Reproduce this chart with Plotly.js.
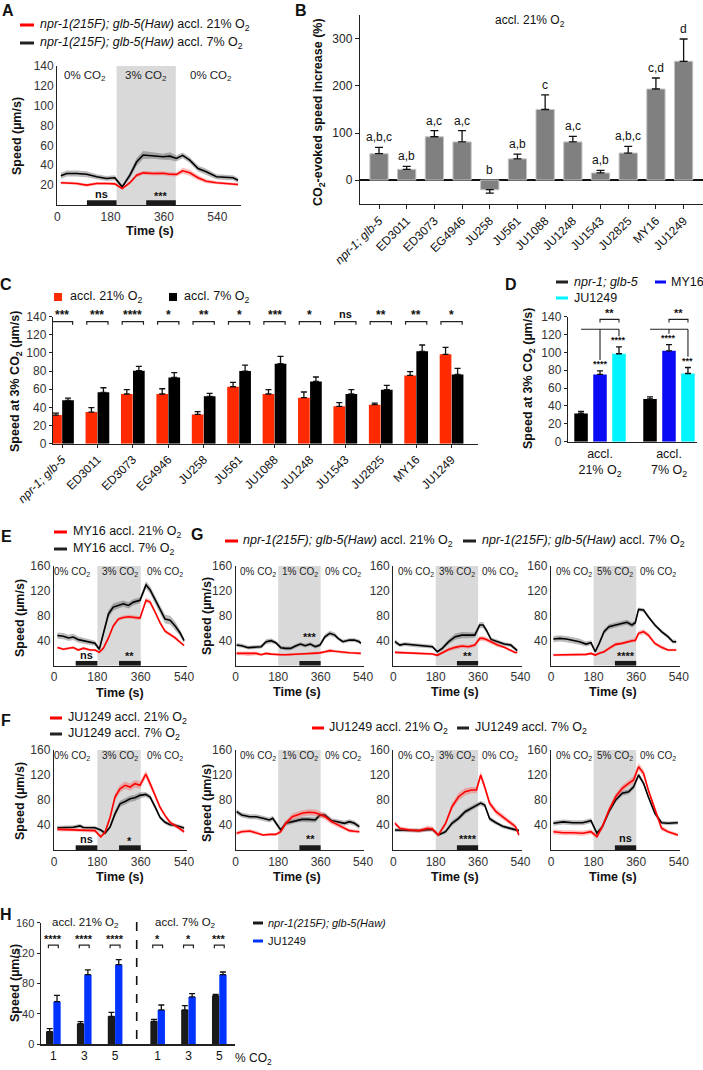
<!DOCTYPE html>
<html><head><meta charset="utf-8">
<script src="https://cdn.plot.ly/plotly-3.0.1.min.js"></script>
<style>html,body{margin:0;padding:0;background:#fff}#chart{width:703px;height:1070px}</style>
</head><body><div id="chart"></div>
<script>
// ================= DATA =================
const strains = ['npr-1; glb-5','ED3011','ED3073','EG4946','JU258','JU561','JU1088','JU1248','JU1543','JU2825','MY16','JU1249'];
// Panel B: CO2-evoked speed increase (%), accl. 21% O2
const speedIncreaseB = [56, 22.7, 92, 81, -20.6, 45, 150, 81, 15, 57.4, 193.6, 252.5];
const semB = [13.5, 6.3, 13, 24, 7.4, 10, 31, 12, 5.6, 14.2, 23.4, 47.5];
const lettersB = ['a,b,c','a,b','a,c','a,c','b','a,b','c','a,c','a,b','a,b,c','c,d','d'];
// Panel C: speed at 3% CO2
const speedC21 = [31.6, 34.9, 54.8, 54.8, 32.3, 62.8, 54.8, 50.7, 41.2, 43, 75.3, 98.5];
const semC21 = [2.2, 4.8, 4.7, 5.8, 3, 4.8, 4.7, 6.3, 4, 1.8, 4.1, 7.7];
const speedC7 = [47.8, 56.6, 80.5, 73.1, 52.2, 80.1, 88.2, 68.7, 54.8, 59.5, 101.8, 76.4];
const semC7 = [2.5, 5.1, 4.8, 5.2, 3.3, 6.6, 8.1, 4.8, 4.7, 4.8, 7, 6.7];
const sigC = ['***','***','****','*','**','*','***','*','ns','**','**','*'];
// Panel D
const conditionsD = ['accl.<br>21% O<sub>2</sub>','accl.<br>7% O<sub>2</sub>'];
const speedD_npr = [31.6, 47.8], semD_npr = [2.2, 2.5];
const speedD_MY16 = [75.3, 101.8], semD_MY16 = [4.1, 7];
const speedD_JU1249 = [98.5, 76.4], semD_JU1249 = [7.7, 6.7];
const sigD_MY16 = ['****','****'], sigD_JU1249 = ['****','***'], sigD_pair = ['**','**'];
// Panel A: npr-1(215F); glb-5(Haw), 3% CO2
const tA = [12, 32, 65, 99, 133, 166, 194, 219, 245, 268, 290, 324, 357, 380, 402, 423, 447, 475, 503, 537, 571, 593, 610];
const a21 = [22.4, 22.4, 21.7, 20, 21.7, 21.7, 21.3, 16.6, 22.4, 30, 32.4, 31.8, 32, 31, 30.8, 34.5, 32.4, 27.4, 24, 22.4, 21.7, 21.2, 20.7];
const a21sem = [1.5,1.5,1.5,1.5,1.5,1.5,1.5,1.2,1.5,2,2,2,2,2,2,3,3,2.5,2,1.5,1.5,1.5,1.5];
const a7 = [29.4, 31.8, 31.8, 31, 28.4, 26.7, 27.4, 18.3, 30, 43.5, 50.3, 49.6, 48.6, 49.2, 46.9, 50, 45.2, 36.8, 33.4, 28.4, 27.4, 27.4, 25];
const a7sem = [3,3,3,3,2.5,2.5,2.5,1.5,3,4,4,3,3,4,3,3,3,3,3,2.5,2.5,2.5,2.5];
// Panel E: MY16
const tE = [14, 39, 60, 80, 101, 122, 150, 170, 188, 205, 226, 246, 267, 288, 309, 330, 357, 382, 399, 420, 440, 461, 482, 503, 523, 540];
const e7 = [48.3, 47.2, 44.4, 46, 41.7, 40, 37.8, 36, 26.2, 50, 83, 94, 96.7, 99.4, 96.7, 102, 105, 129.7, 121.5, 105, 91, 74.7, 73, 63.7, 52.7, 40];
const e7sem = [5,5,5,5,5,5,5,4,3,5,6,6,5,5,5,5,5,6,6,6,6,7,7,7,5,4];
const e21 = [29, 26.2, 28, 29, 25, 28, 25, 25, 21.3, 28, 44.4, 63.7, 74.7, 77.4, 78.5, 77.4, 76.3, 105, 102, 85.7, 69, 55.4, 50, 44.4, 37.8, 32.3];
const e21sem = [2,2,2,2,2,2,2,2,2,2,3,3,3,3,3,3,3,4,4,3,3,3,3,3,2,2];
// Panel F: JU1249
const tF = [14, 39, 80, 108, 122, 170, 194, 212, 233, 253, 274, 295, 316, 336, 357, 381, 399, 420, 440, 461, 482, 503, 523, 540];
const f21 = [33, 32.5, 32.5, 32, 31.5, 31, 21, 28.8, 52.4, 84.7, 98, 103.5, 100.8, 106.2, 103.5, 121.3, 106.2, 87.4, 68.5, 55, 44.3, 38.9, 33.5, 29.2];
const f21sem = [3,3,3,3,3,3,2,3,4,6,6,6,6,6,6,6,6,5,4,3,3,3,3,3];
const f7 = [35.5, 35.5, 36.5, 38.5, 36, 35.5, 32, 27, 37, 57.8, 73.9, 77.7, 82, 83.6, 87.4, 89, 84.7, 68.5, 52.4, 44.3, 40.5, 39.5, 37.3, 35.2];
const f7sem = [3,3,3,3,3,3,2,3,3,5,5,5,5,5,5,4,4,4,3,3,3,3,3,3];
// Panel G top: npr-1(215F); glb-5(Haw) at 1, 3, 5 % CO2
const tG1 = [4, 25, 53, 87, 108, 129, 150, 170, 191, 212, 233, 253, 274, 295, 316, 337, 357, 378, 399, 420, 434, 454, 482, 503, 524, 530];
const g1_7 = [33, 32, 28.8, 29.3, 30.4, 38.4, 40, 36.8, 28.8, 27.7, 27.7, 31.4, 34.6, 32, 34.6, 30.4, 33, 46.4, 51.8, 49, 43.7, 38.4, 41, 41, 38.4, 35.7];
const g1_7sem = [3,3,3,3,3,4,4,3,3,3,3,3,3,3,3,3,3,4,4,4,3,3,3,3,3,3];
const g1_21 = [19.6, 19.6, 18.6, 19.6, 17.5, 19.6, 18.5, 17.5, 17.5, 17.5, 17.5, 18.6, 18.6, 19, 19.6, 19.6, 20.5, 22.3, 24, 23, 22.3, 21, 20.7, 20.2, 19.6, 19.6];
const g1_21sem = [3,3,3,3,2,2,2,2,2,2,2,2,2,2,2,2,2,2,3,2,2,2,2,2,2,2];
const tG2 = [7, 28, 48, 83, 125, 166, 187, 208, 235, 263, 291, 319, 346, 367, 381, 395, 415, 443, 471, 499, 519, 526];
const g2_7 = [38.4, 33, 34.6, 33, 31.4, 30.4, 22.3, 27.7, 38.4, 46.4, 49, 49, 49, 65.2, 65.2, 57, 42, 38.4, 34.6, 33, 26, 24];
const g2_7sem = [4,3,3,3,3,3,2,3,4,5,5,5,4,5,5,4,3,3,3,3,3,3];
const g2_21 = [21.3, 21, 20.7, 19.6, 19.6, 18.6, 16.5, 20.7, 26, 29.3, 31.4, 30.4, 33, 43.7, 43.7, 42, 38.4, 33, 29.3, 24, 20.7, 21.3];
const g2_21sem = [2,2,2,2,2,2,2,2,3,3,3,3,3,4,4,4,3,3,2,2,2,2];
const tG3 = [10, 37, 65, 93, 120, 148, 169, 187, 204, 224, 245, 273, 301, 321, 342, 356, 370, 391, 411, 439, 467, 494, 515, 529];
const g3_7 = [42.7, 43.7, 42.7, 41, 38.4, 34.6, 36.8, 22.3, 35.7, 54.5, 62.5, 65.2, 67.9, 69.5, 65.2, 69, 90.3, 89.3, 78.6, 65.2, 54.5, 46.4, 38.4, 38.4];
const g3_7sem = [5,5,5,5,5,4,4,2,3,4,4,4,4,4,4,4,3,3,3,3,3,3,3,3];
const g3_21 = [17, 17, 17, 17, 17.5, 18, 19.6, 17, 20, 22.3, 27.7, 34.1, 35.7, 38.4, 40, 40.5, 51.8, 54.5, 49, 35.7, 29.3, 25, 25, 25];
const g3_21sem = [2,2,2,2,2,2,2,2,2,2,3,3,3,3,3,3,4,4,4,3,3,2,2,2];
// Panel G bottom: JU1249 at 1, 3, 5 % CO2
const tL1 = [4, 25, 60, 87, 115, 143, 157, 170, 191, 212, 240, 260, 281, 309, 337, 357, 378, 406, 434, 461, 482, 503, 524];
const l1_21 = [26.7, 29.3, 30.4, 27.7, 24, 25, 25, 25, 29.3, 42.7, 53.3, 56, 58.7, 60.3, 59.7, 57, 53.3, 45.3, 40, 34.7, 31, 30, 29.3];
const l1_21sem = [3,3,3,3,2,2,2,2,3,4,5,5,5,5,5,5,5,4,4,3,3,3,3];
const l1_7 = [61.3, 56, 53.3, 53.3, 50.7, 48, 50.7, 43.7, 32, 42.7, 45.3, 48, 49, 49, 48, 56, 56, 47, 45.3, 42.7, 45.3, 42.7, 37.3];
const l1_7sem = [4,4,4,4,4,4,4,4,3,4,4,4,4,4,4,4,4,4,4,4,4,4,4];
const tL2 = [7, 28, 69, 111, 145, 166, 191, 222, 249, 277, 305, 332, 353, 371, 388, 409, 436, 464, 492, 519, 533];
const l2_21 = [42.7, 34.7, 32, 31, 34.7, 33.6, 24, 42.7, 69.3, 85.3, 93.3, 96, 96, 120, 101, 74.7, 61.3, 53.3, 45.3, 37.3, 24];
const l2_21sem = [4,3,3,3,4,4,3,4,5,6,6,5,5,6,6,5,5,4,4,4,3];
const l2_7 = [32, 32, 31.5, 31, 32.5, 33, 24, 29.3, 42.7, 50.7, 61.3, 66.7, 72, 75, 72, 50, 43.7, 38, 35, 32, 31];
const l2_7sem = [3,3,3,3,3,3,2,3,4,4,4,4,4,4,4,4,3,3,3,3,3];
const tL3 = [10, 51, 93, 134, 169, 194, 217, 245, 273, 301, 328, 349, 370, 391, 411, 439, 467, 494, 536];
const l3_21 = [29.3, 27.7, 27.7, 26.7, 29.3, 21.3, 37.3, 64, 85.3, 98.7, 106.7, 112, 133.3, 122.7, 96, 64, 34.7, 29.3, 24];
const l3_21sem = [4,4,4,4,4,3,4,5,5,5,5,6,6,6,5,5,4,3,3];
const l3_7 = [42.7, 45, 43.7, 43.7, 47, 26.7, 37.3, 61.3, 80, 90.7, 93.3, 101.3, 120, 106.7, 85.3, 58.7, 43.7, 42.7, 43.7];
const l3_7sem = [4,4,4,4,4,3,4,4,4,4,4,4,4,4,4,4,3,3,3];
// Panel H
const co2Levels = ['1','3','5'];
const h21_npr = [16.7, 27.2, 36.8], semH21_npr = [3.9, 2.6, 5.3];
const h21_JU = [56.1, 91.6, 104.8], semH21_JU = [8.3, 6.2, 6.6];
const h7_npr = [30.2, 45.2, 64.0], semH7_npr = [2.7, 5.7, 1.8];
const h7_JU = [45.2, 62.3, 91.6], semH7_JU = [6.5, 4.3, 3.5];
const sigH21 = ['****','****','****'], sigH7 = ['*','*','***'];

// ================= LAYOUT HELPERS =================
const W = 703, H = 1070;
const FONT = 'Liberation Sans, Arial, Helvetica, sans-serif';
const fx = p => p / W, fy = p => 1 - p / H;
const id = n => n === 1 ? '' : String(n);
const RED = '#ff0000', BLACK = '#000000';
const RED_BAND = 'rgba(255,70,70,0.35)', BLACK_BAND = 'rgba(60,60,60,0.35)';
const traces = [];
const layout = {
  width: W, height: H, margin: {l:0, r:0, t:0, b:0}, showlegend: false,
  paper_bgcolor: '#ffffff', plot_bgcolor: 'rgba(0,0,0,0)', barmode: 'overlay',
  font: {family: FONT, size: 12, color: '#222'}, annotations: [], shapes: []
};
function axBase(extra) {
  return Object.assign({showgrid:false, zeroline:false, showline:true, linecolor:'#222', linewidth:1.2,
    ticks:'', tickfont:{family:FONT, size:11, color:'#333'}, fixedrange:true}, extra);
}
function addAxes(n, xl, xr, yt, yb, xo, yo) {
  layout['xaxis' + id(n)] = axBase(Object.assign({domain:[fx(xl), fx(xr)], anchor:'y' + id(n)}, xo));
  layout['yaxis' + id(n)] = axBase(Object.assign({domain:[fy(yb), fy(yt)], anchor:'x' + id(n)}, yo));
}
function T(x, y, text, o) {
  o = o || {};
  layout.annotations.push(Object.assign({xref:'paper', yref:'paper', x:fx(x), y:fy(y), text:text, showarrow:false,
    xanchor:'center', yanchor:'middle', font:{family:FONT, size:12, color:'#111'}}, o));
}
function Tdata(n, x, y, text, o) {
  o = o || {};
  layout.annotations.push(Object.assign({xref:'x' + id(n), yref:'y' + id(n), x:x, y:y, text:text, showarrow:false,
    xanchor:'center', yanchor:'middle', font:{family:FONT, size:11, color:'#111'}}, o));
}
function legendLine(x0, x1, y, color, w) {
  layout.shapes.push({type:'line', xref:'paper', yref:'paper', x0:fx(x0), x1:fx(x1), y0:fy(y), y1:fy(y),
    line:{color:color, width:w || 3}});
}
function series(n, t, m, s, color, band) {
  const up = m.map((v, i) => v + s[i]), lo = m.map((v, i) => v - s[i]);
  traces.push({type:'scatter', mode:'lines', x:t.concat(t.slice().reverse()), y:up.concat(lo.slice().reverse()),
    fill:'toself', fillcolor:band, line:{width:0}, xaxis:'x' + id(n), yaxis:'y' + id(n), hoverinfo:'skip'});
  traces.push({type:'scatter', mode:'lines', x:t, y:m, line:{color:color, width:1.6},
    xaxis:'x' + id(n), yaxis:'y' + id(n), hoverinfo:'skip'});
}
function shade(n, x0, x1) {
  layout.shapes.push({type:'rect', xref:'x' + id(n), yref:'y' + id(n) + ' domain', x0:x0, x1:x1, y0:0, y1:1,
    fillcolor:'#d9d9d9', line:{width:0}, layer:'below'});
}
function windowBar(n, x0, x1, h, label, ly) {
  layout.shapes.push({type:'rect', xref:'x' + id(n), yref:'y' + id(n) + ' domain', x0:x0, x1:x1, y0:0, y1:h,
    fillcolor:'#1a1a1a', line:{width:0}});
  Tdata(n, (x0 + x1) / 2, ly, label, {font:{family:FONT, size:11, color:'#111', weight:'bold'}});
}
function co2Labels(n, xs, y, pct, size) {
  const labs = ['0% CO<sub>2</sub>', pct + '% CO<sub>2</sub>', '0% CO<sub>2</sub>'];
  xs.forEach((x, i) => Tdata(n, x, y, labs[i], {font:{family:FONT, size:size, color:'#222'}}));
}
function errPlusMinus(vals, sems) {
  return {plus: vals.map((v, i) => v >= 0 ? sems[i] : 0), minus: vals.map((v, i) => v < 0 ? sems[i] : 0)};
}
function bars(n, xs, ys, sems, color, width, offset, xaxisOverride) {
  const e = errPlusMinus(ys, sems);
  traces.push({type:'bar', x:xs, y:ys, width:width, offset:offset,
    marker:{color:color, line:{width:0}},
    error_y:{type:'data', symmetric:false, array:e.plus, arrayminus:e.minus, color:'#111', thickness:1.3, width:3},
    xaxis:'x' + (xaxisOverride || id(n)), yaxis:'y' + id(n), hoverinfo:'skip'});
}
const bold = (s, size) => ({family:FONT, size:size || 12.5, color:'#111', weight:'bold'});
const idx = a => a.map((_, i) => i);

// ================= PANEL A =================
addAxes(1, 57.3, 241, 66, 205,
  {range:[0, 620], tickvals:[0,180,360,540], tickfont:{family:FONT, size:12, color:'#333'}},
  {range:[0, 140], tickvals:[20,40,60,80,100,120,140], tickfont:{family:FONT, size:12, color:'#333'}});
shade(1, 200, 400);
series(1, tA, a7, a7sem, BLACK, BLACK_BAND);
series(1, tA, a21, a21sem, RED, RED_BAND);
windowBar(1, 100, 200, 0.034, 'ns', 11);
windowBar(1, 300, 400, 0.034, '***', 9);
co2Labels(1, [93, 301, 518], 130, 3, 11.5);
T(8, 10, 'A', {font:bold('', 16)});
legendLine(20, 34, 25, RED); legendLine(20, 34, 43, '#222');
T(38, 25, '<i>npr-1(215F); glb-5(Haw)</i> accl. 21% O<sub>2</sub>', {xanchor:'left', font:{family:FONT, size:12.5, color:'#111'}});
T(38, 43, '<i>npr-1(215F); glb-5(Haw)</i> accl. 7% O<sub>2</sub>', {xanchor:'left', font:{family:FONT, size:12.5, color:'#111'}});
T(17, 136, 'Speed (µm/s)', {textangle:-90, font:bold()});
T(150, 231, 'Time (s)', {font:bold()});

// ================= PANEL B =================
const xB = idx(strains);
const tickB = strains.map((s, i) => i === 0 ? '<i>' + s + '</i>' : s);
addAxes(2, 360, 703, 15, 204,
  {range:[-0.686, 11.7], tickvals:xB, ticktext:tickB, tickangle:-45, ticks:'outside', ticklen:4, tickcolor:'#222',
   tickfont:{family:FONT, size:12, color:'#111'}},
  {range:[-51, 351], tickvals:[0,100,200,300], ticks:'outside', ticklen:4, tickcolor:'#222',
   zeroline:true, zerolinecolor:'#111', zerolinewidth:1.3, tickfont:{family:FONT, size:12, color:'#222'}});
(function(){
  const e = errPlusMinus(speedIncreaseB, semB);
  traces.push({type:'bar', x:xB, y:speedIncreaseB, width:0.66,
    marker:{color:'#808080', line:{color:'#c4c4c4', width:1}},
    error_y:{type:'data', symmetric:false, array:e.plus, arrayminus:e.minus, color:'#111', thickness:1.3, width:4},
    xaxis:'x2', yaxis:'y2', hoverinfo:'skip'});
})();
lettersB.forEach((l, i) => {
  const top = speedIncreaseB[i] >= 0 ? speedIncreaseB[i] + semB[i] : 0;
  Tdata(2, i, top, l, {yanchor:'bottom', yshift:1, font:{family:FONT, size:12, color:'#111'}});
});
T(530, 21, 'accl. 21% O<sub>2</sub>', {font:{family:FONT, size:12, color:'#111'}});
T(301, 10, 'B', {font:bold('', 16)});
T(319, 112, 'CO<sub>2</sub>-evoked speed increase (%)', {textangle:-90, font:bold()});

// ================= PANEL C =================
const xC = idx(strains);
addAxes(3, 53, 478, 316.7, 443.7,
  {range:[-0.254, 11.746], tickvals:xC, ticktext:tickB, tickangle:-45, ticks:'outside', ticklen:3, tickcolor:'#222',
   tickfont:{family:FONT, size:12, color:'#111'}},
  {range:[0, 140], tickvals:[0,20,40,60,80,100,120,140], ticks:'outside', ticklen:3, tickcolor:'#222',
   tickfont:{family:FONT, size:12, color:'#333'}});
bars(3, xC, speedC21, semC21, '#ff2a00', 0.33, -0.335);
bars(3, xC, speedC7, semC7, '#000000', 0.33, 0.005);
sigC.forEach((s, i) => {
  layout.shapes.push({type:'path', xref:'x3', yref:'y3',
    path:`M ${i-0.3},131.2 L ${i-0.3},134.5 L ${i+0.3},134.5 L ${i+0.3},131.2`, line:{color:'#222', width:1.2}});
  Tdata(3, i, 134.5, s, {yanchor:'bottom', yshift:s === 'ns' ? 0 : -2, font:{family:FONT, size:s === 'ns' ? 11 : 12, color:'#111', weight:'bold'}});
});
T(6, 284, 'C', {font:bold('', 16)});
layout.shapes.push({type:'rect', xref:'paper', yref:'paper', x0:fx(54), x1:fx(62), y0:fy(301), y1:fy(293), fillcolor:'#ff2a00', line:{width:0}});
layout.shapes.push({type:'rect', xref:'paper', yref:'paper', x0:fx(169), x1:fx(177), y0:fy(301), y1:fy(293), fillcolor:'#000', line:{width:0}});
T(68, 297, 'accl. 21% O<sub>2</sub>', {xanchor:'left', font:{family:FONT, size:12.5, color:'#111'}});
T(182, 297, 'accl. 7% O<sub>2</sub>', {xanchor:'left', font:{family:FONT, size:12.5, color:'#111'}});
T(16, 382, 'Speed at 3% CO<sub>2</sub> (µm/s)', {textangle:-90, font:bold()});

// ================= PANEL D =================
const xD = idx(conditionsD);
addAxes(4, 568, 697, 316.7, 441.7,
  {range:[-0.464, 1.406], tickvals:xD, ticktext:conditionsD, tickfont:{family:FONT, size:12.5, color:'#111'}},
  {range:[0, 140], tickvals:[0,20,40,60,80,100,120,140], ticks:'outside', ticklen:3, tickcolor:'#222',
   tickfont:{family:FONT, size:12, color:'#333'}});
bars(4, xD, speedD_npr, semD_npr, '#000000', 0.196, -0.373);
bars(4, xD, speedD_MY16, semD_MY16, '#0a0af5', 0.196, -0.098);
bars(4, xD, speedD_JU1249, semD_JU1249, '#00f5ff', 0.196, 0.177);
xD.forEach(g => {
  const kx = g - 0.275, bx = g, cx = g + 0.275;
  const bTop = speedD_MY16[g] + semD_MY16[g], cTop = speedD_JU1249[g] + semD_JU1249[g];
  layout.shapes.push({type:'path', xref:'x4', yref:'y4',
    path:`M ${kx},126 L ${cx},126 M ${bx},126 L ${bx},${Math.min(bTop + 12, 124)} M ${cx},126 L ${cx},${Math.min(cTop + 12, 124)}`,
    line:{color:'#222', width:1.1}});
  layout.shapes.push({type:'path', xref:'x4', yref:'y4',
    path:`M ${bx},133.5 L ${bx},137 L ${cx},137 L ${cx},133.5`, line:{color:'#222', width:1.1}});
  Tdata(4, (bx + cx) / 2, 137, sigD_pair[g], {yanchor:'bottom', yshift:-2, font:{family:FONT, size:11, color:'#111', weight:'bold'}});
  Tdata(4, bx, bTop, sigD_MY16[g], {yanchor:'bottom', yshift:0, font:{family:FONT, size:9, color:'#111', weight:'bold'}});
  Tdata(4, cx, cTop, sigD_JU1249[g], {yanchor:'bottom', yshift:0, font:{family:FONT, size:9, color:'#111', weight:'bold'}});
});
T(511, 284, 'D', {font:bold('', 16)});
legendLine(556, 568, 282, '#222'); T(572, 282, '<i>npr-1; glb-5</i>', {xanchor:'left', font:{family:FONT, size:12.5, color:'#111'}});
legendLine(655, 666, 282, '#0a0af5'); T(669, 282, 'MY16', {xanchor:'left', font:{family:FONT, size:12.5, color:'#111'}});
legendLine(556, 568, 298, '#00f5ff'); T(572, 298, 'JU1249', {xanchor:'left', font:{family:FONT, size:12.5, color:'#111'}});
T(529, 379, 'Speed at 3% CO<sub>2</sub> (µm/s)', {textangle:-90, font:bold()});

// ================= PANELS E, G, F =================
const tsX = {range:[0, 552], tickvals:[0,180,360,540], tickfont:{family:FONT, size:12, color:'#333'}};
const tsXg = {range:[0, 545], tickvals:[0,180,360,540], tickfont:{family:FONT, size:12, color:'#333'}};
const tsY = {range:[0, 160], tickvals:[40,80,120,160], tickfont:{family:FONT, size:12, color:'#333'}};
const gX = [[235.7, 364.3], [393.3, 521.7], [551, 680]];
addAxes(5, 54, 187, 566, 665.6, tsX, tsY);
addAxes(6, gX[0][0], gX[0][1], 566, 665.6, tsXg, tsY);
addAxes(7, gX[1][0], gX[1][1], 566, 665.6, tsXg, tsY);
addAxes(8, gX[2][0], gX[2][1], 566, 665.6, tsXg, tsY);
addAxes(9, 54, 187, 750, 850, tsX, tsY);
addAxes(10, gX[0][0], gX[0][1], 750, 850, tsXg, tsY);
addAxes(11, gX[1][0], gX[1][1], 750, 850, tsXg, tsY);
addAxes(12, gX[2][0], gX[2][1], 750, 850, tsXg, tsY);
[5,6,7,8,9,10,11,12].forEach(n => shade(n, 180, 360));

// E
series(5, tE, e7, e7sem, BLACK, BLACK_BAND);
series(5, tE, e21, e21sem, RED, RED_BAND);
windowBar(5, 90, 180, 0.047, 'ns', 17);
windowBar(5, 270, 360, 0.047, '**', 15);
co2Labels(5, [74, 274, 461], 150, 3, 10);
T(6, 536, 'E', {font:bold('', 16)});
legendLine(54, 67, 532, RED); legendLine(54, 67, 549, '#222');
T(71, 532, 'MY16 accl. 21% O<sub>2</sub>', {xanchor:'left', font:{family:FONT, size:12.5, color:'#111'}});
T(71, 549, 'MY16 accl. 7% O<sub>2</sub>', {xanchor:'left', font:{family:FONT, size:12.5, color:'#111'}});
T(20, 618, 'Speed (µm/s)', {textangle:-90, font:bold()});
T(120, 693, 'Time (s)', {font:bold()});

// G top
series(6, tG1, g1_7, g1_7sem, BLACK, BLACK_BAND); series(6, tG1, g1_21, g1_21sem, RED, RED_BAND);
series(7, tG2, g2_7, g2_7sem, BLACK, BLACK_BAND); series(7, tG2, g2_21, g2_21sem, RED, RED_BAND);
series(8, tG3, g3_7, g3_7sem, BLACK, BLACK_BAND); series(8, tG3, g3_21, g3_21sem, RED, RED_BAND);
windowBar(6, 270, 360, 0.047, '***', 46);
windowBar(7, 270, 360, 0.047, '**', 15);
windowBar(8, 270, 360, 0.047, '****', 15);
co2Labels(6, [96, 272, 453], 150, 1, 10);
co2Labels(7, [96, 272, 453], 150, 3, 10);
co2Labels(8, [96, 272, 453], 150, 5, 10);
T(197, 534, 'G', {font:bold('', 16)});
legendLine(225, 238, 541, RED); legendLine(463, 476, 541, '#222');
T(241, 541, '<i>npr-1(215F); glb-5(Haw)</i> accl. 21% O<sub>2</sub>', {xanchor:'left', font:{family:FONT, size:12.5, color:'#111'}});
T(480, 541, '<i>npr-1(215F); glb-5(Haw)</i> accl. 7% O<sub>2</sub>', {xanchor:'left', font:{family:FONT, size:12.5, color:'#111'}});
T(207, 616, 'Speed (µm/s)', {textangle:-90, font:bold()});
gX.forEach(g => T((g[0] + g[1]) / 2 - 3, 692, 'Time (s)', {font:bold()}));

// F
series(9, tF, f7, f7sem, BLACK, BLACK_BAND);
series(9, tF, f21, f21sem, RED, RED_BAND);
windowBar(9, 90, 180, 0.047, 'ns', 17);
windowBar(9, 270, 360, 0.047, '*', 15);
co2Labels(9, [74, 274, 461], 150, 3, 10);
T(6, 720, 'F', {font:bold('', 16)});
legendLine(50, 62, 718, RED); legendLine(50, 62, 734, '#222');
T(66, 718, 'JU1249 accl. 21% O<sub>2</sub>', {xanchor:'left', font:{family:FONT, size:12.5, color:'#111'}});
T(66, 734, 'JU1249 accl. 7% O<sub>2</sub>', {xanchor:'left', font:{family:FONT, size:12.5, color:'#111'}});
T(20, 801, 'Speed (µm/s)', {textangle:-90, font:bold()});
T(120, 877, 'Time (s)', {font:bold()});

// G bottom
series(10, tL1, l1_7, l1_7sem, BLACK, BLACK_BAND); series(10, tL1, l1_21, l1_21sem, RED, RED_BAND);
series(11, tL2, l2_7, l2_7sem, BLACK, BLACK_BAND); series(11, tL2, l2_21, l2_21sem, RED, RED_BAND);
series(12, tL3, l3_7, l3_7sem, BLACK, BLACK_BAND); series(12, tL3, l3_21, l3_21sem, RED, RED_BAND);
windowBar(10, 270, 360, 0.047, '**', 17);
windowBar(11, 270, 360, 0.047, '****', 17);
windowBar(12, 270, 360, 0.047, 'ns', 19);
co2Labels(10, [96, 272, 453], 150, 1, 10);
co2Labels(11, [96, 272, 453], 150, 3, 10);
co2Labels(12, [96, 272, 453], 150, 5, 10);
legendLine(312, 324, 728, RED); legendLine(457, 469, 728, '#222');
T(327, 728, 'JU1249 accl. 21% O<sub>2</sub>', {xanchor:'left', font:{family:FONT, size:12.5, color:'#111'}});
T(473, 728, 'JU1249 accl. 7% O<sub>2</sub>', {xanchor:'left', font:{family:FONT, size:12.5, color:'#111'}});
T(207, 803, 'Speed (µm/s)', {textangle:-90, font:bold()});
gX.forEach(g => T((g[0] + g[1]) / 2 - 3, 877, 'Time (s)', {font:bold()}));

// ================= PANEL H =================
const xH = idx(co2Levels);
addAxes(13, 40.7, 136.7, 922.7, 1044.3,
  {range:[-0.41, 2.70], tickvals:xH, ticktext:co2Levels, tickfont:{family:FONT, size:12, color:'#111'}},
  {range:[0, 160], tickvals:[0,40,80,120,160], ticks:'outside', ticklen:3, tickcolor:'#222',
   tickfont:{family:FONT, size:11, color:'#333'}});
layout.xaxis14 = axBase({domain:[fx(136.7), fx(235)], anchor:'y13', range:[-0.68, 2.51], tickvals:xH, ticktext:co2Levels,
  tickfont:{family:FONT, size:12, color:'#111'}});
bars(13, xH, h21_npr, semH21_npr, '#1a1a1a', 0.237, -0.237);
bars(13, xH, h21_JU, semH21_JU, '#0033ff', 0.237, 0);
bars(13, xH, h7_npr, semH7_npr, '#1a1a1a', 0.237, -0.237, '14');
bars(13, xH, h7_JU, semH7_JU, '#0033ff', 0.237, 0, '14');
function hSig(xref, sigs) {
  sigs.forEach((s, i) => {
    layout.shapes.push({type:'path', xref:xref, yref:'y13',
      path:`M ${i-0.16},126.5 L ${i-0.16},130.5 L ${i+0.16},130.5 L ${i+0.16},126.5`, line:{color:'#222', width:1.2}});
    layout.annotations.push({xref:xref, yref:'y13', x:i, y:130.5, text:s, showarrow:false, yanchor:'bottom', yshift:-2,
      font:{family:FONT, size:11, color:'#111', weight:'bold'}});
  });
}
hSig('x13', sigH21); hSig('x14', sigH7);
layout.shapes.push({type:'line', xref:'paper', yref:'paper', x0:fx(136.7), x1:fx(136.7), y0:fy(922), y1:fy(1044.3),
  line:{color:'#111', width:1.6, dash:'dash'}});
T(85, 923, 'accl. 21% O<sub>2</sub>', {font:{family:FONT, size:11.5, color:'#111'}});
T(185, 923, 'accl. 7% O<sub>2</sub>', {font:{family:FONT, size:11.5, color:'#111'}});
T(233, 1059, '% CO<sub>2</sub>', {xanchor:'left', font:{family:FONT, size:12, color:'#111'}});
T(6, 914, 'H', {font:bold('', 16)});
T(15, 983, 'Speed (µm/s)', {textangle:-90, font:bold()});
legendLine(253, 263, 923, '#1a1a1a'); legendLine(253, 263, 941, '#0033ff');
T(266, 923, '<i>npr-1(215F); glb-5(Haw)</i>', {xanchor:'left', font:{family:FONT, size:11, color:'#111'}});
T(266, 941, 'JU1249', {xanchor:'left', font:{family:FONT, size:11, color:'#111'}});

Plotly.newPlot('chart', traces, layout, {staticPlot:true, displayModeBar:false});
</script></body></html>
